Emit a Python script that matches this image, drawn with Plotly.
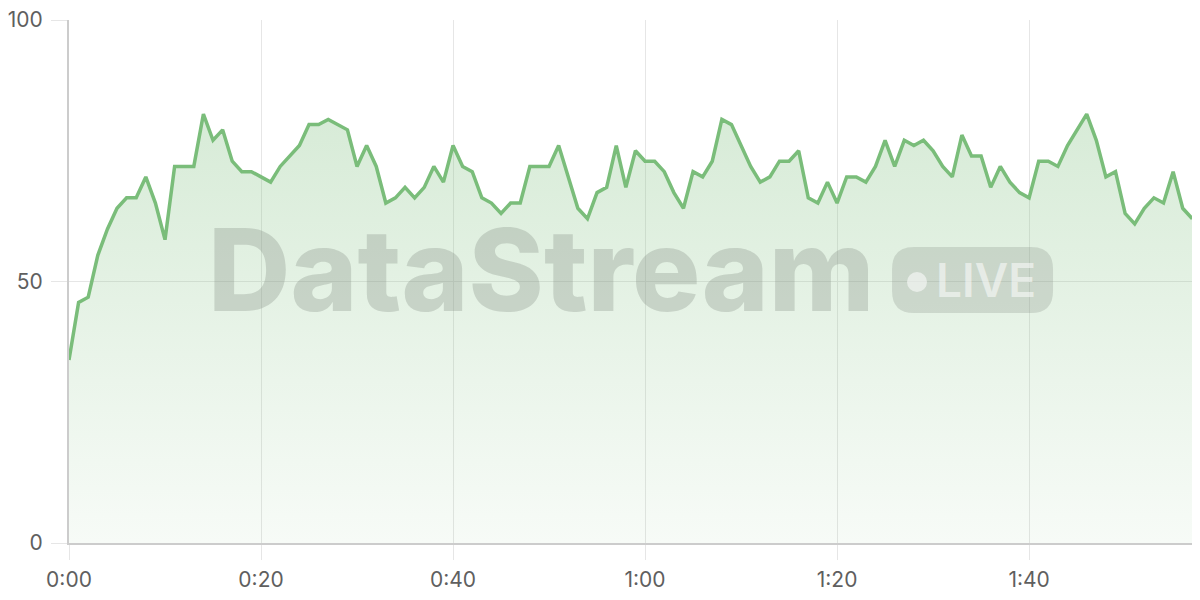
import plotly.graph_objects as go

# level per second
values = [35, 46, 47, 55, 60, 64, 66, 66, 70, 65, 58, 72, 72, 72, 82, 77, 79, 73, 71, 71,
          70, 69, 72, 74, 76, 80, 80, 81, 80, 79, 72, 76, 72, 65, 66, 68, 66, 68, 72, 69,
          76, 72, 71, 66, 65, 63, 65, 65, 72, 72, 72, 76, 70, 64, 62, 67, 68, 76, 68, 75,
          73, 73, 71, 67, 64, 71, 70, 73, 81, 80, 76, 72, 69, 70, 73, 73, 75, 66, 65, 69,
          65, 70, 70, 69, 72, 77, 72, 77, 76, 77, 75, 72, 70, 78, 74, 74, 68, 72, 69, 67,
          66, 73, 73, 72, 76, 79, 82, 77, 70, 71, 63, 61, 64, 66, 65, 71, 64, 62]
seconds = list(range(len(values)))

x_ticks = [0, 20, 40, 60, 80, 100]
x_labels = ["0:00", "0:20", "0:40", "1:00", "1:20", "1:40"]
y_ticks = [0, 50, 100]

GREEN = "rgb(122,189,122)"
GRID = "#e6e6e6"
AXIS = "#cccccc"

fig = go.Figure()

fig.add_trace(go.Scatter(
    x=seconds,
    y=values,
    mode="lines",
    line=dict(color=GREEN, width=3.5),
    fill="tozeroy",
    fillgradient=dict(
        type="vertical",
        colorscale=[[0, "rgba(122,189,122,0.06)"], [1, "rgba(122,189,122,0.30)"]],
    ),
    hoverinfo="skip",
    showlegend=False,
))

# watermark
fig.add_annotation(
    text="DataStream", xref="paper", yref="paper",
    x=0.121, y=0.389, xanchor="left", yanchor="bottom",
    showarrow=False,
    font=dict(family="Inter", size=114, weight=800, color="rgba(130,140,130,0.30)"),
)

# LIVE pill
fig.add_shape(
    type="path", xref="paper", yref="paper",
    xsizemode="pixel", ysizemode="pixel",
    xanchor=0.7277, yanchor=0.4398,
    path="M 22,0 L 139,0 Q 161,0 161,22 L 161,44 Q 161,66 139,66 L 22,66 Q 0,66 0,44 L 0,22 Q 0,0 22,0 Z",
    fillcolor="rgba(130,140,130,0.26)", line=dict(width=0), layer="above",
)
fig.add_shape(
    type="circle", xref="paper", yref="paper",
    xsizemode="pixel", ysizemode="pixel",
    xanchor=0.7498, yanchor=0.499,
    x0=-10, x1=10, y0=-10, y1=10,
    fillcolor="rgba(255,255,255,0.55)", line=dict(width=0), layer="above",
)
fig.add_annotation(
    text="LIVE", xref="paper", yref="paper",
    x=0.7648, y=0.503, xanchor="left", yanchor="middle",
    showarrow=False,
    font=dict(family="Inter", size=46, weight=600, color="rgba(255,255,255,0.55)"),
)

# page body has an 8px margin, so the figure is 8px smaller to fill the window
fig.update_layout(
    width=1192, height=592,
    margin=dict(l=61, r=0, t=12, b=57),
    paper_bgcolor="white",
    plot_bgcolor="white",
    font=dict(family="Inter", size=21, color="#5f5f5f"),
)

fig.update_xaxes(
    range=[0, 117.8],
    tickvals=x_ticks, ticktext=x_labels,
    showgrid=True, gridcolor=GRID, gridwidth=1,
    ticks="outside", ticklen=15, tickcolor=GRID, tickwidth=1,
    showline=True, linecolor=AXIS, linewidth=2,
    zeroline=False,
    ticklabelstandoff=2,
)
fig.update_yaxes(
    range=[0, 100],
    tickvals=y_ticks,
    showgrid=True, gridcolor=GRID, gridwidth=1,
    ticks="outside", ticklen=16, tickcolor=GRID, tickwidth=1,
    showline=True, linecolor=AXIS, linewidth=2,
    zeroline=False,
    ticklabeloverflow="allow",
    ticklabelstandoff=4,
)

fig.write_html("out.html")
